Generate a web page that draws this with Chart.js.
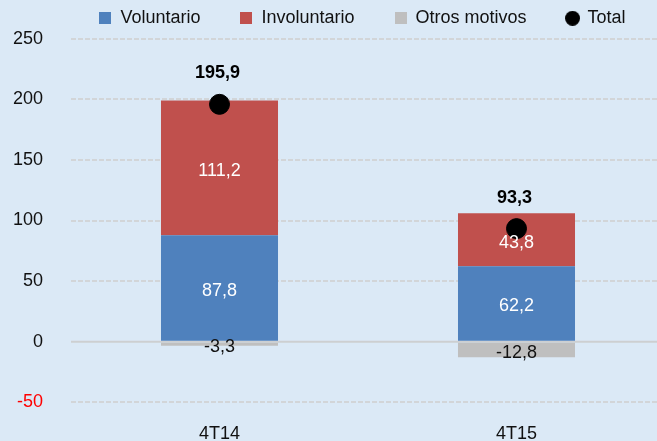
<!DOCTYPE html>
<html>
<head>
<meta charset="utf-8">
<script src="https://cdn.jsdelivr.net/npm/chart.js@4.4.1/dist/chart.umd.min.js"></script>
<style>
html, body { margin: 0; padding: 0; overflow: hidden; background: #dbe9f6; }
canvas { display: block; }
</style>
</head>
<body>
<canvas id="chart" width="657" height="441"></canvas>
<script>
var categories = ['4T14', '4T15'];
var voluntario = [87.8, 62.2];
var involuntario = [111.2, 43.8];
var otros = [-3.3, -12.8];
var total = [195.9, 93.3];
var yMin = -50, yMax = 250, yStep = 50;

var FONT = "'Liberation Sans', Arial, Helvetica, sans-serif";
Chart.defaults.font.family = FONT;
Chart.defaults.font.size = 18;
Chart.defaults.color = '#111';

function fmt(v) {
    return v.toFixed(1).replace('.', ',');
}

// little canvases used as legend markers
function swatch(color, round) {
    var c = document.createElement('canvas');
    var s = round ? 15 : 12;
    c.width = s; c.height = s;
    var g = c.getContext('2d');
    g.fillStyle = color;
    if (round) {
        g.beginPath();
        g.arc(s / 2, s / 2, s / 2, 0, Math.PI * 2);
        g.fill();
    } else {
        g.fillRect(0, 0, s, s);
    }
    return c;
}

var valueLabels = {
    id: 'valueLabels',
    afterDatasetsDraw: function(chart) {
        var ctx = chart.ctx;
        ctx.save();
        ctx.textAlign = 'center';
        ctx.textBaseline = 'middle';
        chart.data.datasets.forEach(function(ds, i) {
            var meta = chart.getDatasetMeta(i);
            meta.data.forEach(function(el, j) {
                var v = ds.data[j];
                if (ds.type === 'line') {
                    ctx.font = 'bold 18px ' + FONT;
                    ctx.fillStyle = '#000';
                    ctx.fillText(fmt(v), el.x - 2, el.y - 31);
                } else {
                    ctx.font = '18px ' + FONT;
                    ctx.fillStyle = v < 0 ? '#111' : '#fff';
                    ctx.fillText(fmt(v), el.x, (el.y + el.base) / 2 + 3);
                }
            });
        });
        ctx.restore();
    }
};

var zeroLine = {
    id: 'zeroLine',
    beforeDatasetsDraw: function(chart) {
        var ctx = chart.ctx, area = chart.chartArea;
        var y0 = chart.scales.y.getPixelForValue(0);
        ctx.save();
        ctx.strokeStyle = '#cdcfd1';
        ctx.lineWidth = 2;
        ctx.beginPath();
        ctx.moveTo(area.left, y0);
        ctx.lineTo(area.right, y0);
        ctx.stroke();
        ctx.restore();
    }
};

var legendPlace = {
    id: 'legendPlace',
    beforeInit: function(chart) {
        var fit = chart.legend.fit;
        chart.legend.fit = function() {
            fit.call(this);
            this.height = 35.5;
        };
    },
    afterLayout: function(chart) {
        chart.legend.top -= 34;
        chart.legend.left += 34;
        chart.legend.right += 34;
        // plot runs to the right edge, category band a bit past it
        var area = chart.chartArea;
        area.right = chart.width;
        area.width = area.right - area.left;
        var x = chart.scales.x;
        x.right = chart.width + 8;
        x.width = x.right - x.left;
        x.configure();
    }
};

var ctx = document.getElementById('chart').getContext('2d');
var chart = new Chart(ctx, {
    type: 'bar',
    data: {
        labels: categories,
        datasets: [{
            label: 'Voluntario',
            data: voluntario,
            backgroundColor: '#4f81bd',
            order: 1
        }, {
            label: 'Involuntario',
            data: involuntario,
            backgroundColor: '#c0504d',
            order: 1
        }, {
            label: 'Otros motivos',
            data: otros,
            backgroundColor: '#bfbfbf',
            order: 1
        }, {
            type: 'line',
            label: 'Total',
            data: total,
            showLine: false,
            stack: 'total',
            pointRadius: 10,
            pointBackgroundColor: '#000',
            pointBorderColor: '#000',
            borderColor: '#000',
            backgroundColor: '#000',
            order: 0
        }]
    },
    options: {
        responsive: false,
        animation: false,
        devicePixelRatio: 1,
        layout: { padding: 0 },
        datasets: {
            bar: { categoryPercentage: 1, barPercentage: 0.394 }
        },
        scales: {
            x: {
                stacked: true,
                grid: { display: false },
                border: { display: false },
                afterFit: function(scale) { scale.height = 38.5; },
                ticks: { padding: 13, color: '#111', font: { size: 18 } }
            },
            y: {
                stacked: true,
                min: yMin,
                max: yMax,
                afterFit: function(scale) { scale.width = 71; },
                border: { display: false, dash: [5, 2] },
                grid: {
                    drawTicks: false,
                    lineWidth: 2,
                    color: function(c) {
                        return c.tick && c.tick.value === 0 ? 'rgba(0,0,0,0)' : '#d2d5d8';
                    }
                },
                ticks: {
                    stepSize: yStep,
                    padding: 28,
                    font: { size: 18 },
                    color: function(c) {
                        return c.tick && c.tick.value < 0 ? '#ff0000' : '#111';
                    }
                }
            }
        },
        plugins: {
            tooltip: { enabled: false },
            legend: {
                position: 'top',
                labels: {
                    padding: 40,
                    boxWidth: 12,
                    boxHeight: 12,
                    usePointStyle: true,
                    color: '#111',
                    font: { size: 18 },
                    sort: function(a, b) { return a.datasetIndex - b.datasetIndex; },
                    generateLabels: function(chart) {
                        var items = Chart.defaults.plugins.legend.labels.generateLabels(chart);
                        items.forEach(function(it) {
                            var ds = chart.data.datasets[it.datasetIndex];
                            it.pointStyle = swatch(ds.type === 'line' ? '#000' : ds.backgroundColor, ds.type === 'line');
                        });
                        return items;
                    }
                }
            }
        }
    },
    plugins: [valueLabels, zeroLine, legendPlace]
});
</script>
</body>
</html>
